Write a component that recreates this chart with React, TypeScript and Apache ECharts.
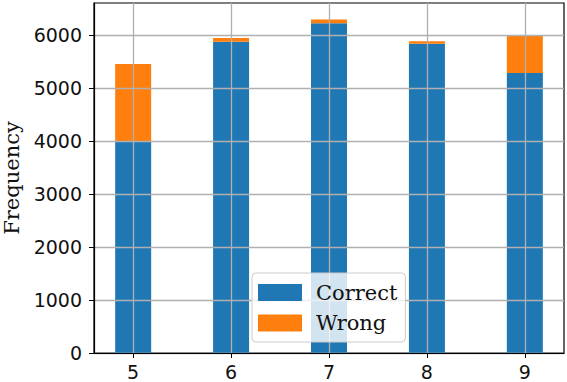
import React, { useEffect, useRef } from "react";
import * as echarts from "echarts";

const categories = [5, 6, 7, 8, 9];
const correct = [4000, 5870, 6220, 5830, 5280];
const wrong = [1450, 70, 70, 50, 710];
const yTicks = [0, 1000, 2000, 3000, 4000, 5000, 6000];
const seriesNames = ["Correct", "Wrong"];

export default function App() {
  const ref = useRef<HTMLDivElement>(null);
  useEffect(() => {
    document.body.style.margin = "0";
    const chart = echarts.init(ref.current!, null, { renderer: "svg" });
    const tickFont = { fontFamily: "DejaVu Sans", fontSize: 19, color: "#111" };
    chart.setOption({
      animation: false,
      grid: {
        left: 94,
        top: 3,
        right: 3,
        bottom: 29,
        show: true,
        borderColor: "#000",
        borderWidth: 1.2,
        containLabel: false,
        outerBoundsMode: "none",
      },
      xAxis: {
        type: "value",
        min: 4.6,
        max: 9.4,
        z: 5,
        axisLine: { show: true, lineStyle: { color: "#000", width: 1.2 } },
        axisTick: { show: true, length: 5, customValues: categories, lineStyle: { color: "#000" } },
        axisLabel: {
          ...tickFont,
          margin: 11,
          lineHeight: 16,
          customValues: categories,
          formatter: (v: number) => String(v),
        },
        splitLine: { show: true, lineStyle: { color: "#b0b0b0", width: 1.3 } },
      },
      yAxis: {
        type: "value",
        min: 0,
        max: 6600,
        interval: 1000,
        z: 5,
        name: "Frequency",
        nameLocation: "middle",
        nameGap: 64,
        nameTextStyle: { fontFamily: "DejaVu Serif", fontSize: 21, color: "#111" },
        axisLine: { show: true, lineStyle: { color: "#000", width: 1.2 } },
        axisTick: { show: true, length: 5, customValues: yTicks, lineStyle: { color: "#000" } },
        axisLabel: { ...tickFont, margin: 12, customValues: yTicks, formatter: (v: number) => String(v) },
        splitLine: { show: true, lineStyle: { color: "#b0b0b0", width: 1.3 } },
      },
      legend: {
        orient: "vertical",
        left: 252,
        top: 273,
        z: 6,
        icon: "rect",
        itemWidth: 44,
        itemHeight: 17,
        itemGap: 9.5,
        padding: [9, 8, 8.5, 6],
        backgroundColor: "rgba(255,255,255,0.8)",
        borderColor: "#cccccc",
        borderWidth: 1,
        borderRadius: 4,
        textStyle: { fontFamily: "DejaVu Serif", fontSize: 21, color: "#111", padding: [0, 0, 0, 9] },
        data: seriesNames,
      },
      series: [
        {
          type: "bar",
          name: seriesNames[0],
          stack: "total",
          barWidth: 36,
          itemStyle: { color: "#1f77b4" },
          encode: { x: 1, y: 0 },
          data: categories.map((c, i) => [correct[i], c]),
        },
        {
          type: "bar",
          name: seriesNames[1],
          stack: "total",
          barWidth: 36,
          itemStyle: { color: "#ff7f0e" },
          encode: { x: 1, y: 0 },
          data: categories.map((c, i) => [wrong[i], c]),
        },
      ],
    });
    return () => chart.dispose();
  }, []);
  return <div ref={ref} style={{ width: 567, height: 382 }} />;
}
